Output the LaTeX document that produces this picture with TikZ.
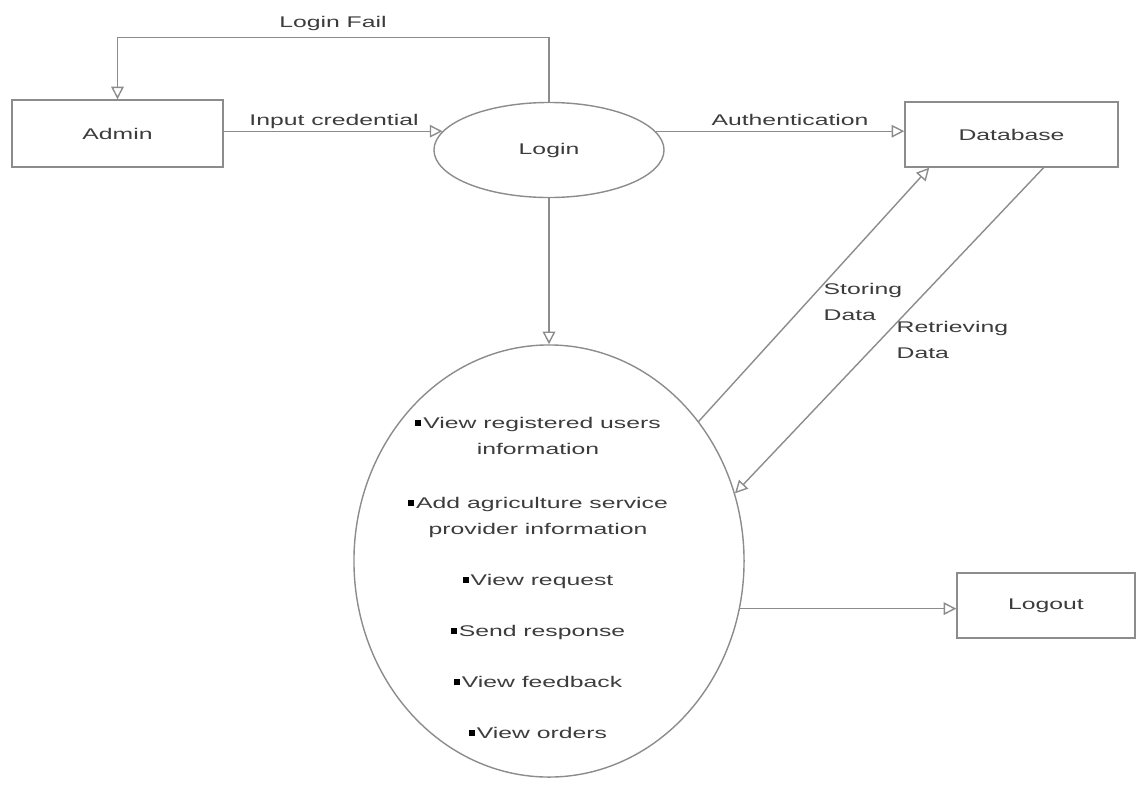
\documentclass[tikz,border=0pt]{standalone}
\usepackage{fontspec}
\newfontfamily\dfont[FakeStretch=1.6]{Liberation Sans}
\usetikzlibrary{arrows.meta,shapes.geometric,calc}
\definecolor{edgegray}{HTML}{8C8C8C}
\definecolor{inkgray}{HTML}{3C3C3C}
% small square bullet used in the task list
\newcommand{\itembul}{{\color{black}\rule[0.15em]{0.4em}{0.4em}}\hspace{0.12em}}

\begin{document}
\begin{tikzpicture}[x=0.025cm,y=-0.025cm,
  every node/.style={font=\dfont\fontsize{11}{18.4}\selectfont, text=inkgray},
  entity/.style={draw=edgegray, line width=1pt, rectangle, inner sep=0pt},
  process/.style={draw=edgegray, line width=1pt, ellipse, inner sep=0pt},
  flow/.style={draw=edgegray, line width=1pt, -{Triangle[open,length=9pt,width=9pt]}},
  flowlabel/.style={inner sep=1pt},
]
\useasboundingbox (0,0) rectangle (1137,784);

% external entities and processes
\node[entity, minimum width=5.275cm, minimum height=1.675cm] (admin) at (117.5,133.5) {Admin};
\node[process, minimum width=5.75cm, minimum height=2.375cm] (login) at (549,150) {Login};
\node[entity, minimum width=5.325cm, minimum height=1.625cm] (db) at (1011.5,134.5) {Database};
\node[process, minimum width=9.75cm, minimum height=10.8cm] (main) at (549,561) {};
\node[entity, minimum width=4.45cm, minimum height=1.625cm] (logout) at (1046,605.5) {Logout};

% admin tasks inside the main process
\node[align=center] (tasks) at (538,578) {\itembul View registered users\\information\\[20pt]\itembul Add agriculture service\\provider information\\[18pt]\itembul View request\\[18pt]\itembul Send response\\[18pt]\itembul View feedback\\[18pt]\itembul View orders};

% data flows
\draw[flow] (admin.east |- login.170) -- (login.170);
\draw[flow] (login.north) -- ++(0,-64.5) -| (admin.north);
\draw[flow] (login.10) -- (login.10 -| db.west);
\draw[flow] (login.south) -- (main.north);
\draw[flow] (main.43) -- (db.202);
\draw[flow] (db.314) -- (main.20);
\draw[flow] (main.346) -- (main.346 -| logout.west);

% flow labels
\node[flowlabel] (lcred) at (334,121) {Input credential};
\node[flowlabel] (lfail) at (333,23) {Login Fail};
\node[flowlabel] (lauth) at (790,120) {Authentication};
\node[flowlabel, align=left, anchor=west] (lstore) at (822,302) {Storing\\Data};
\node[flowlabel, align=left, anchor=west] (lretr) at (895,340) {Retrieving\\Data};
\end{tikzpicture}
\end{document}
